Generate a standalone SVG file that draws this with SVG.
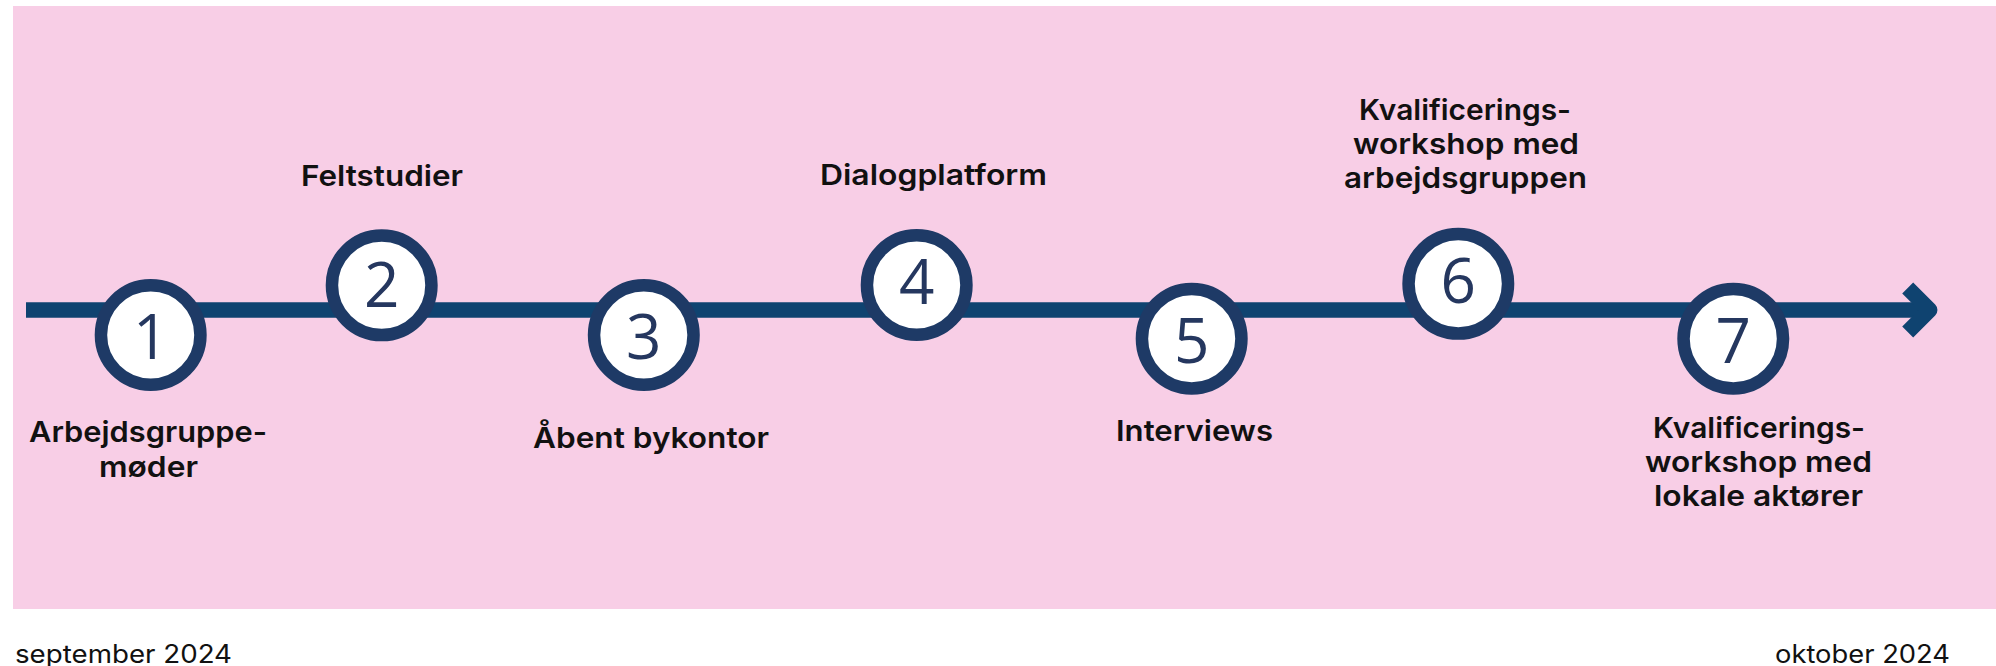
<svg xmlns="http://www.w3.org/2000/svg" width="1996" height="666" viewBox="0 0 1996 666">
  <style>
    .lbl { font-family: Inter, "Open Sans", "Liberation Sans", sans-serif; font-weight: 600; font-size: 29px; fill: #111111; }
    .date { font-family: Inter, "Open Sans", "Liberation Sans", sans-serif; font-weight: 400; font-size: 25px; fill: #111111; }
    .num { font-family: "Open Sans", "Noto Sans", "Liberation Sans", sans-serif; font-weight: 400; font-size: 62px; fill: #25375f; text-anchor: middle; }
    .ring { fill: #ffffff; stroke: #1e3a66; stroke-width: 12.5; }
    .axis { fill: none; stroke: #0f4370; stroke-width: 15.5; }
  </style>
  <rect x="13" y="6" width="1983" height="603" fill="#f8cee6"/>
  <g id="connectors">
    <line class="axis" x1="26" y1="310" x2="1932" y2="310"/>
    <polyline class="axis" points="1907.7,288 1929.7,310 1907.7,332" stroke-linejoin="round"/>
  </g>
  <g id="node1">
    <circle class="ring" cx="150.7" cy="335" r="49.75"/>
    <text class="num" x="150.7" y="359">1</text>
    <text class="lbl" x="29" y="442" textLength="238" lengthAdjust="spacingAndGlyphs">Arbejdsgruppe-</text>
    <text class="lbl" x="99" y="476.6" textLength="99" lengthAdjust="spacingAndGlyphs">møder</text>
  </g>
  <g id="node2">
    <circle class="ring" cx="381.7" cy="285.3" r="49.75"/>
    <text class="num" x="381.7" y="306.5">2</text>
    <text class="lbl" x="301" y="185.6" textLength="162" lengthAdjust="spacingAndGlyphs">Feltstudier</text>
  </g>
  <g id="node3">
    <circle class="ring" cx="643.8" cy="335" r="49.75"/>
    <text class="num" x="643.8" y="359">3</text>
    <text class="lbl" x="533" y="448" textLength="236" lengthAdjust="spacingAndGlyphs">Åbent bykontor</text>
  </g>
  <g id="node4">
    <circle class="ring" cx="916.7" cy="285" r="49.75"/>
    <text class="num" x="916.7" y="303.5">4</text>
    <text class="lbl" x="820" y="184.8" textLength="227" lengthAdjust="spacingAndGlyphs">Dialogplatform</text>
  </g>
  <g id="node5">
    <circle class="ring" cx="1191.7" cy="338.7" r="49.75"/>
    <text class="num" x="1191.7" y="363">5</text>
    <text class="lbl" x="1116" y="440.5" textLength="157" lengthAdjust="spacingAndGlyphs">Interviews</text>
  </g>
  <g id="node6">
    <circle class="ring" cx="1458.3" cy="283.8" r="49.75"/>
    <text class="num" x="1458.3" y="302.5">6</text>
    <text class="lbl" x="1359" y="120" textLength="212" lengthAdjust="spacingAndGlyphs">Kvalificerings-</text>
    <text class="lbl" x="1353" y="154" textLength="226" lengthAdjust="spacingAndGlyphs">workshop med</text>
    <text class="lbl" x="1344" y="188" textLength="243" lengthAdjust="spacingAndGlyphs">arbejdsgruppen</text>
  </g>
  <g id="node7">
    <circle class="ring" cx="1733.3" cy="338.7" r="49.75"/>
    <text class="num" x="1733.3" y="363">7</text>
    <text class="lbl" x="1653" y="437.5" textLength="212" lengthAdjust="spacingAndGlyphs">Kvalificerings-</text>
    <text class="lbl" x="1645" y="471.5" textLength="227" lengthAdjust="spacingAndGlyphs">workshop med</text>
    <text class="lbl" x="1654" y="506" textLength="209" lengthAdjust="spacingAndGlyphs">lokale aktører</text>
  </g>
  <text class="date" x="15" y="663" textLength="217" lengthAdjust="spacingAndGlyphs">september 2024</text>
  <text class="date" x="1775" y="663" textLength="175" lengthAdjust="spacingAndGlyphs">oktober 2024</text>
</svg>
